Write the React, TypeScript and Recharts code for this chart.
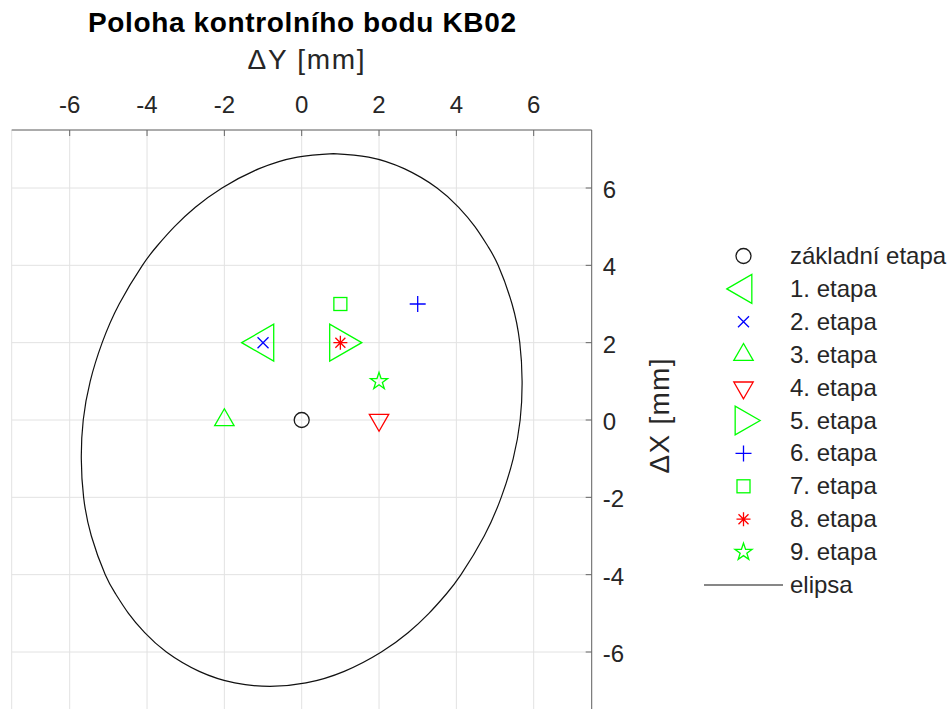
import React from "react";
import { ScatterChart, Scatter, XAxis, YAxis, CartesianGrid } from "recharts";

// stages of the control point KB02
const stages = [
  "základní etapa",
  "1. etapa",
  "2. etapa",
  "3. etapa",
  "4. etapa",
  "5. etapa",
  "6. etapa",
  "7. etapa",
  "8. etapa",
  "9. etapa",
];
const deltaY = [0, -1, -1, -2, 2, 1, 3, 1, 1, 2];
const deltaX = [0, 2, 2, 0, 0, 2, 3, 3, 2, 1];

const ellipseDeltaY = [
  0.82, 1.73, 2.65, 3.5, 4.06, 4.48, 4.81, 5.08, 5.44, 5.64, 5.7, 5.65, 5.47,
  5.16, 4.72, 4.12, 3.74, 3.29, 2.75, 2.06, 1.1, 0.11, -0.82, -1.73, -2.65,
  -3.5, -4.06, -4.48, -4.81, -5.08, -5.44, -5.64, -5.7, -5.65, -5.47, -5.16,
  -4.72, -4.12, -3.74, -3.29, -2.75, -2.06, -1.1, -0.11, 0.82,
];
const ellipseDeltaX = [
  6.89, 6.8, 6.5, 6, 5.5, 5, 4.5, 4, 3, 2, 1, 0, -1, -2, -3, -4, -4.5, -5,
  -5.5, -6, -6.5, -6.8, -6.89, -6.8, -6.5, -6, -5.5, -5, -4.5, -4, -3, -2, -1,
  0, 1, 2, 3, 4, 4.5, 5, 5.5, 6, 6.5, 6.8, 6.89,
];

const axisTicks = [-6, -4, -2, 0, 2, 4, 6];

const markerKinds = [
  "circle",
  "triangleLeft",
  "cross",
  "triangleUp",
  "triangleDown",
  "triangleRight",
  "plus",
  "square",
  "asterisk",
  "pentagram",
];
const markerColors = [
  "#1a1a1a",
  "#00ff00",
  "#0000ff",
  "#00ff00",
  "#ff0000",
  "#00ff00",
  "#0000ff",
  "#00ff00",
  "#ff0000",
  "#00ff00",
];

const FONT = "'Liberation Sans', Arial, Helvetica, sans-serif";
const TEXT = "#262626";
const AXIS = "#666666";

function Marker({ kind, cx, cy, color, big = 1 }: any) {
  const p = { fill: "none", stroke: color, strokeWidth: 1.3 };
  if (kind === "circle") return <circle cx={cx} cy={cy} r={7.5} {...p} />;
  if (kind === "triangleLeft" || kind === "triangleRight") {
    const s = 37 * big;
    const w = s * 0.866;
    const d = kind === "triangleLeft" ? -1 : 1;
    return (
      <polygon
        points={`${cx + (d * w * 2) / 3},${cy} ${cx - (d * w) / 3},${cy - s / 2} ${cx - (d * w) / 3},${cy + s / 2}`}
        {...p}
      />
    );
  }
  if (kind === "triangleUp" || kind === "triangleDown") {
    const s = 19.4;
    const h = s * 0.866;
    const d = kind === "triangleUp" ? -1 : 1;
    return (
      <polygon
        points={`${cx},${cy + (d * h * 2) / 3} ${cx - s / 2},${cy - (d * h) / 3} ${cx + s / 2},${cy - (d * h) / 3}`}
        {...p}
      />
    );
  }
  if (kind === "cross") {
    const r = 5.5;
    return (
      <path d={`M${cx - r},${cy - r}L${cx + r},${cy + r}M${cx - r},${cy + r}L${cx + r},${cy - r}`} {...p} />
    );
  }
  if (kind === "plus") {
    const r = 8;
    return <path d={`M${cx - r},${cy}L${cx + r},${cy}M${cx},${cy - r}L${cx},${cy + r}`} {...p} />;
  }
  if (kind === "square") {
    return <rect x={cx - 6.5} y={cy - 6.5} width={13} height={13} {...p} />;
  }
  if (kind === "asterisk") {
    const r = 7;
    const q = 5;
    return (
      <path
        d={`M${cx - r},${cy}L${cx + r},${cy}M${cx},${cy - r}L${cx},${cy + r}M${cx - q},${cy - q}L${cx + q},${cy + q}M${cx - q},${cy + q}L${cx + q},${cy - q}`}
        {...p}
      />
    );
  }
  // pentagram
  const pts: string[] = [];
  for (let k = 0; k < 10; k++) {
    const r = k % 2 === 0 ? 9 : 3.5;
    const a = -Math.PI / 2 + (k * Math.PI) / 5;
    pts.push(`${cx + r * Math.cos(a)},${cy + r * Math.sin(a)}`);
  }
  return <polygon points={pts.join(" ")} {...p} />;
}

function TopTick(props: any) {
  const { x, y, payload } = props;
  return (
    <g>
      <line x1={x} x2={x} y1={y} y2={y + 6} stroke={AXIS} strokeWidth={1} />
      <text x={x} y={y - 17} textAnchor="middle" fill={TEXT} fontSize={24} fontFamily={FONT}>
        {String(payload.value)}
      </text>
    </g>
  );
}

function RightTick(props: any) {
  const { x, y, payload } = props;
  return (
    <g>
      <line x1={x} x2={x - 6} y1={y} y2={y} stroke={AXIS} strokeWidth={1} />
      <text x={x + 11} y={y + 10} textAnchor="start" fill={TEXT} fontSize={24} fontFamily={FONT}>
        {String(payload.value)}
      </text>
    </g>
  );
}

export default function App() {
  const ellipse = ellipseDeltaY.map((v, i) => ({ dy: v, dx: ellipseDeltaX[i] }));
  const legendTop = 256;
  const legendStep = 32.9;

  return (
    <div
      style={{
        position: "absolute",
        left: 0,
        top: 0,
        width: 952,
        height: 709,
        overflow: "hidden",
        background: "#fff",
      }}
    >
      <ScatterChart
        width={952}
        height={720}
        margin={{ top: 100, right: 300.3, bottom: 10, left: 11.7 }}
      >
        <CartesianGrid stroke="#e2e2e2" strokeWidth={1} />
        <XAxis
          type="number"
          dataKey="dy"
          orientation="top"
          domain={[-7.5, 7.5]}
          ticks={axisTicks}
          interval={0}
          allowDataOverflow
          height={30}
          tickSize={0}
          tickMargin={0}
          tickLine={false}
          axisLine={{ stroke: AXIS, strokeWidth: 1 }}
          tick={<TopTick />}
        />
        <YAxis
          type="number"
          dataKey="dx"
          orientation="right"
          domain={[-7.5, 7.5]}
          ticks={axisTicks}
          interval={0}
          allowDataOverflow
          width={60}
          tickSize={0}
          tickMargin={0}
          tickLine={false}
          axisLine={{ stroke: AXIS, strokeWidth: 1 }}
          tick={<RightTick />}
        />
        {stages.map((name, i) => (
          <Scatter
            key={name}
            name={name}
            data={[{ dy: deltaY[i], dx: deltaX[i] }]}
            isAnimationActive={false}
            shape={(p: any) => (
              <Marker kind={markerKinds[i]} cx={p.cx} cy={p.cy} color={markerColors[i]} />
            )}
          />
        ))}
        <Scatter
          name="elipsa"
          data={ellipse}
          isAnimationActive={false}
          line={{ stroke: "#111", strokeWidth: 1.2 }}
          lineType="joint"
          lineJointType="natural"
          shape={() => <g />}
        />

        <text
          x={302}
          y={32}
          textAnchor="middle"
          fontFamily={FONT}
          fontWeight="bold"
          fontSize={28}
          fill="#000"
          textLength={428}
          lengthAdjust="spacing"
        >
          Poloha kontrolního bodu KB02
        </text>
        <text
          x={306}
          y={69}
          textAnchor="middle"
          fontFamily={FONT}
          fontSize={28}
          fill={TEXT}
          textLength={117}
          lengthAdjust="spacing"
        >
          ΔY [mm]
        </text>
        <text
          x={669}
          y={416}
          transform="rotate(-90, 669, 416)"
          textAnchor="middle"
          fontFamily={FONT}
          fontSize={28}
          fill={TEXT}
          textLength={115}
          lengthAdjust="spacing"
        >
          ΔX [mm]
        </text>

        <g>
          {stages.map((name, i) => {
            const cy = legendTop + i * legendStep;
            return (
              <g key={name}>
                <Marker kind={markerKinds[i]} cx={743.5} cy={cy} color={markerColors[i]} big={0.78} />
                <text x={790} y={cy + 8} fontFamily={FONT} fontSize={24} fill={TEXT}>
                  {name}
                </text>
              </g>
            );
          })}
          <line
            x1={704}
            x2={783}
            y1={legendTop + 10 * legendStep}
            y2={legendTop + 10 * legendStep}
            stroke="#111"
            strokeWidth={1.2}
          />
          <text x={790} y={legendTop + 10 * legendStep + 8} fontFamily={FONT} fontSize={24} fill={TEXT}>
            elipsa
          </text>
        </g>
      </ScatterChart>
    </div>
  );
}
